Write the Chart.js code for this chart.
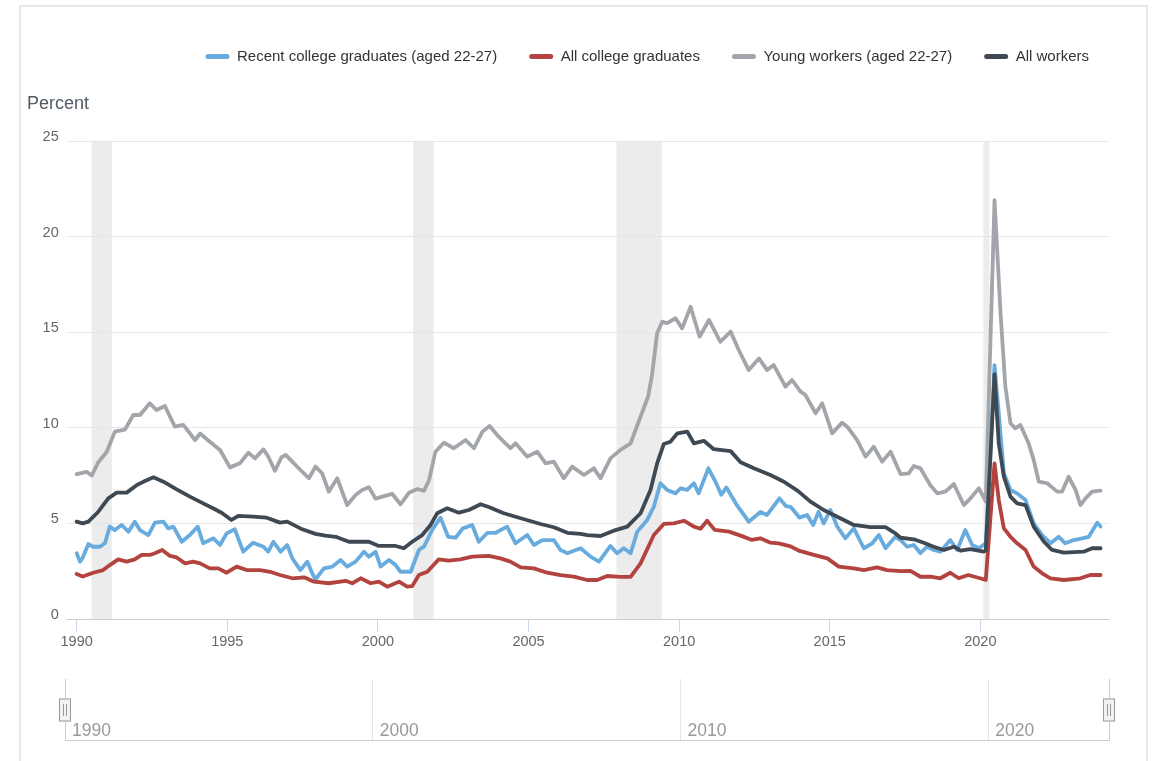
<!DOCTYPE html>
<html>
<head>
<meta charset="utf-8">
<script src="https://cdn.jsdelivr.net/npm/chart.js@4.4.1/dist/chart.umd.min.js"></script>
<style>
html, body { margin:0; padding:0; background:#fff; width:1161px; height:761px; overflow:hidden; }
#frame { position:absolute; left:19px; top:5px; width:1129px; height:800px; border:2px solid #e8e8e8; box-sizing:border-box; }
#main { position:absolute; left:0; top:0; }
#nav { position:absolute; left:0; top:660px; }
</style>
</head>
<body>
<div id="frame"></div>
<canvas id="main" width="1161" height="665"></canvas>
<canvas id="nav" width="1161" height="101"></canvas>
<script>
// ---------- DATA ----------
const seriesLabels = ['Recent college graduates (aged 22-27)', 'All college graduates', 'Young workers (aged 22-27)', 'All workers'];

const recentYears = [1990.0,1990.11,1990.2,1990.39,1990.55,1990.77,1990.94,1991.1,1991.27,1991.49,1991.72,1991.93,1992.1,1992.38,1992.6,1992.88,1993.04,1993.21,1993.49,1993.76,1994.02,1994.2,1994.54,1994.76,1994.98,1995.25,1995.53,1995.86,1996.2,1996.36,1996.53,1996.77,1996.99,1997.16,1997.43,1997.66,1997.82,1997.93,1998.21,1998.49,1998.76,1998.98,1999.26,1999.54,1999.7,1999.92,2000.09,2000.37,2000.59,2000.75,2001.09,2001.36,2001.53,2001.81,2002.08,2002.33,2002.58,2002.82,2003.13,2003.35,2003.63,2003.91,2004.07,2004.29,2004.57,2004.96,2005.18,2005.46,2005.84,2006.06,2006.29,2006.73,2007.06,2007.34,2007.72,2007.94,2008.16,2008.39,2008.61,2008.94,2009.16,2009.38,2009.6,2009.88,2010.05,2010.27,2010.49,2010.65,2010.97,2011.2,2011.4,2011.57,2011.9,2012.31,2012.7,2012.92,2013.33,2013.55,2013.7,2014.0,2014.25,2014.45,2014.63,2014.8,2015.02,2015.25,2015.52,2015.8,2016.13,2016.41,2016.63,2016.85,2017.18,2017.35,2017.57,2017.79,2018.01,2018.23,2018.45,2018.67,2019.0,2019.23,2019.5,2019.73,2019.95,2020.18,2020.47,2020.61,2020.78,2021.0,2021.22,2021.5,2021.77,2022.05,2022.33,2022.6,2022.82,2023.1,2023.38,2023.6,2023.88,2023.99];
const recentRates = [3.44,3.0,3.2,3.92,3.78,3.78,3.96,4.83,4.65,4.92,4.57,5.09,4.65,4.39,5.04,5.09,4.74,4.83,4.04,4.39,4.83,3.96,4.22,3.87,4.48,4.69,3.52,3.99,3.78,3.52,4.04,3.52,3.87,3.17,2.56,3.0,2.39,2.08,2.65,2.74,3.09,2.74,3.0,3.52,3.26,3.52,2.74,3.09,2.82,2.47,2.47,3.61,3.78,4.69,5.3,4.3,4.25,4.74,4.92,4.04,4.5,4.51,4.65,4.83,3.96,4.39,3.87,4.13,4.13,3.61,3.44,3.7,3.26,3.0,3.82,3.44,3.7,3.44,4.57,5.18,5.87,7.1,6.75,6.57,6.84,6.75,7.1,6.57,7.88,7.2,6.5,6.88,6.0,5.09,5.6,5.44,6.31,5.9,5.87,5.3,5.44,4.92,5.61,5.0,5.7,4.83,4.22,4.74,3.7,3.96,4.39,3.7,4.3,4.13,3.78,3.87,3.44,3.78,3.61,3.52,4.13,3.61,4.65,3.87,3.7,3.96,13.28,10.76,7.62,6.75,6.57,6.22,5.0,4.39,3.96,4.3,3.96,4.13,4.22,4.3,5.04,4.83];

const collegeYears = [1990.0,1990.2,1990.55,1990.88,1991.1,1991.38,1991.66,1991.93,1992.16,1992.43,1992.6,1992.84,1993.1,1993.32,1993.6,1993.87,1994.1,1994.42,1994.7,1994.98,1995.31,1995.64,1996.09,1996.42,1996.75,1997.16,1997.55,1997.88,1998.37,1998.93,1999.15,1999.43,1999.76,2000.03,2000.31,2000.7,2000.97,2001.14,2001.36,2001.64,2002.02,2002.35,2002.74,2003.13,2003.68,2004.07,2004.4,2004.74,2005.18,2005.62,2006.06,2006.5,2006.95,2007.28,2007.61,2008.05,2008.39,2008.72,2009.16,2009.49,2009.82,2010.16,2010.49,2010.71,2010.93,2011.18,2011.66,2012.04,2012.4,2012.7,2013.03,2013.3,2013.7,2014.0,2014.47,2014.92,2015.3,2015.8,2016.13,2016.57,2016.9,2017.35,2017.68,2018.01,2018.34,2018.67,2019.0,2019.28,2019.6,2019.99,2020.18,2020.47,2020.61,2020.78,2021.0,2021.22,2021.5,2021.77,2022.05,2022.33,2022.77,2023.32,2023.65,2023.99];
const collegeRates = [2.35,2.22,2.42,2.56,2.82,3.12,3.0,3.12,3.35,3.35,3.44,3.61,3.3,3.22,2.91,3.0,2.91,2.65,2.65,2.42,2.74,2.56,2.56,2.47,2.3,2.13,2.18,1.95,1.87,2.0,1.87,2.13,1.87,1.95,1.69,1.95,1.69,1.72,2.3,2.47,3.12,3.05,3.12,3.26,3.3,3.17,3.0,2.7,2.65,2.42,2.3,2.22,2.04,2.04,2.25,2.2,2.2,2.91,4.39,4.97,5.0,5.14,4.83,4.72,5.14,4.66,4.57,4.36,4.14,4.22,3.99,3.96,3.8,3.56,3.35,3.17,2.74,2.65,2.56,2.7,2.56,2.5,2.52,2.21,2.21,2.13,2.42,2.13,2.3,2.13,2.04,8.14,6.22,4.74,4.3,3.96,3.61,2.74,2.39,2.13,2.04,2.13,2.3,2.3];

const youngYears = [1990.0,1990.33,1990.5,1990.72,1991.0,1991.27,1991.6,1991.88,1992.1,1992.43,1992.65,1992.93,1993.26,1993.54,1993.93,1994.1,1994.42,1994.76,1995.09,1995.42,1995.7,1995.92,1996.2,1996.36,1996.58,1996.8,1996.94,1997.27,1997.71,1997.93,1998.15,1998.37,1998.65,1998.98,1999.26,1999.48,1999.7,1999.92,2000.15,2000.48,2000.75,2001.03,2001.31,2001.53,2001.7,2001.91,2002.19,2002.52,2002.91,2003.19,2003.47,2003.71,2003.96,2004.4,2004.57,2004.96,2005.29,2005.57,2005.84,2006.17,2006.45,2006.84,2007.17,2007.39,2007.72,2008.05,2008.39,2008.74,2008.97,2009.1,2009.27,2009.44,2009.6,2009.88,2010.1,2010.38,2010.68,2010.99,2011.37,2011.71,2011.98,2012.31,2012.65,2012.92,2013.14,2013.53,2013.75,2014.03,2014.19,2014.53,2014.75,2015.08,2015.41,2015.58,2015.91,2016.19,2016.46,2016.74,2017.02,2017.35,2017.62,2017.79,2018.01,2018.34,2018.57,2018.84,2019.12,2019.45,2019.67,2019.95,2020.18,2020.47,2020.67,2020.83,2021.0,2021.16,2021.33,2021.6,2021.77,2021.94,2022.22,2022.55,2022.71,2022.93,2023.16,2023.32,2023.49,2023.71,2023.99];
const youngRates = [7.58,7.7,7.5,8.2,8.75,9.8,9.9,10.67,10.67,11.28,10.93,11.14,10.06,10.15,9.36,9.7,9.27,8.84,7.93,8.14,8.7,8.4,8.87,8.5,7.75,8.46,8.58,8.05,7.36,7.97,7.62,6.66,7.36,5.96,6.49,6.75,6.89,6.3,6.4,6.54,6.0,6.6,6.8,6.7,7.27,8.75,9.22,8.93,9.36,8.93,9.8,10.1,9.62,8.93,9.19,8.49,8.75,8.14,8.23,7.36,7.97,7.53,7.88,7.36,8.4,8.84,9.19,10.67,11.63,12.75,14.94,15.55,15.47,15.73,15.2,16.33,14.76,15.64,14.5,15.03,14.07,13.02,13.63,13.02,13.28,12.15,12.5,11.89,11.72,10.76,11.28,9.71,10.27,10.06,9.36,8.49,9.01,8.23,8.75,7.58,7.62,8.0,7.88,7.0,6.57,6.66,7.06,5.96,6.31,6.84,6.14,21.9,16.0,12.15,10.24,9.97,10.15,9.19,8.32,7.18,7.1,6.66,6.66,7.44,6.75,5.96,6.31,6.66,6.71];

const allYears = [1990.0,1990.2,1990.39,1990.72,1991.05,1991.33,1991.66,1991.99,1992.27,1992.55,1992.88,1993.32,1993.76,1994.2,1994.59,1994.81,1995.14,1995.37,1995.86,1996.31,1996.75,1996.99,1997.49,1997.93,1998.26,1998.6,1999.04,1999.7,2000.03,2000.59,2000.86,2001.14,2001.47,2001.75,2001.97,2002.3,2002.69,2003.02,2003.41,2003.68,2004.18,2004.74,2005.4,2005.84,2006.29,2006.73,2006.95,2007.39,2007.83,2008.28,2008.72,2009.05,2009.27,2009.49,2009.71,2009.94,2010.27,2010.49,2010.82,2011.15,2011.71,2012.04,2012.48,2013.03,2013.48,2013.94,2014.36,2014.8,2015.25,2015.8,2016.35,2016.85,2017.18,2017.35,2017.79,2018.12,2018.45,2018.79,2019.12,2019.34,2019.67,2020.11,2020.18,2020.47,2020.61,2020.78,2021.0,2021.22,2021.5,2021.77,2022.11,2022.38,2022.77,2023.43,2023.71,2023.99];
const allRates = [5.09,5.0,5.09,5.61,6.31,6.61,6.61,7.0,7.22,7.41,7.18,6.78,6.4,6.05,5.74,5.56,5.18,5.39,5.35,5.3,5.04,5.09,4.69,4.45,4.36,4.3,4.04,4.04,3.82,3.82,3.7,4.04,4.39,4.92,5.53,5.79,5.56,5.7,6.0,5.86,5.53,5.27,4.97,4.8,4.51,4.45,4.39,4.34,4.62,4.83,5.53,6.75,8.14,9.15,9.27,9.71,9.8,9.19,9.32,8.88,8.78,8.2,7.88,7.53,7.18,6.7,6.14,5.7,5.35,4.92,4.8,4.8,4.48,4.25,4.17,3.99,3.78,3.61,3.78,3.57,3.65,3.52,3.6,12.8,9.19,7.44,6.4,6.05,5.96,4.83,4.04,3.61,3.47,3.52,3.7,3.7];

// recession shading (start / end, decimal years)
const recessionStarts = [1990.5, 2001.17, 2007.92, 2020.1];
const recessionEnds   = [1991.17, 2001.85, 2009.42, 2020.3];

// tick labels
const xTickValues   = [1990, 1995, 2000, 2005, 2010, 2015, 2020];
const yTickValues   = [0, 5, 10, 15, 20, 25];
const navTickValues = [1990, 2000, 2010, 2020];

// ---------- STYLE ----------
const colors = ['#68abdf', '#b3433e', '#a2a5aa', '#3e4953'];
Chart.defaults.font.family = "'Liberation Sans', Arial, Helvetica, sans-serif";
Chart.defaults.color = '#666';

function pts(xs, ys) { return xs.map((x, i) => ({ x: x, y: ys[i] })); }
const seriesData = [pts(recentYears, recentRates), pts(collegeYears, collegeRates), pts(youngYears, youngRates), pts(allYears, allRates)];

const datasets = seriesData.map((d, i) => ({
  label: seriesLabels[i],
  data: d,
  borderColor: colors[i],
  backgroundColor: colors[i],
  borderWidth: 3.8,
  pointRadius: 0,
  pointHoverRadius: 0,
  tension: 0,
  fill: false,
  borderJoinStyle: 'round',
  borderCapStyle: 'round',
  order: 4 - i
}));

const recessionPlugin = {
  id: 'recessions',
  beforeDraw(chart) {
    const { ctx, chartArea: a, scales: { x } } = chart;
    ctx.save();
    ctx.fillStyle = '#ececec';
    recessionStarts.forEach((s, i) => {
      const x0 = x.getPixelForValue(s);
      const x1 = x.getPixelForValue(recessionEnds[i]);
      ctx.fillRect(x0, a.top, x1 - x0, a.bottom - a.top);
    });
    ctx.restore();
  }
};

new Chart(document.getElementById('main'), {
  type: 'line',
  data: { datasets: datasets },
  options: {
    responsive: false,
    animation: false,
    events: [],
    layout: { padding: { left: 27, right: 40, top: 17, bottom: 6 } },
    plugins: {
      tooltip: { enabled: false },
      legend: {
        position: 'top',
        align: 'end',
        weight: 1000,
        labels: {
          boxWidth: 24,
          boxHeight: 5,
          padding: 32,
          color: '#333',
          font: { size: 15 },
          generateLabels: (chart) => chart.data.datasets.map((d, i) => ({
            text: d.label,
            fillStyle: d.borderColor,
            strokeStyle: d.borderColor,
            lineWidth: 0,
            hidden: false,
            datasetIndex: i,
            borderRadius: 2.5,
            fontColor: '#333'
          }))
        }
      },
      title: {
        display: true,
        text: 'Percent',
        position: 'top',
        align: 'start',
        weight: 500,
        color: '#505a64',
        font: { size: 18, weight: 'normal' },
        padding: { top: 19.2, bottom: 26.2 }
      }
    },
    scales: {
      x: {
        type: 'linear',
        min: 1989.67,
        max: 2024.27,
        afterBuildTicks: (s) => { s.ticks = xTickValues.map(v => ({ value: v })); },
        afterFit: (s) => { s.height = 40; },
        grid: { drawOnChartArea: false, drawTicks: true, tickLength: 13, color: '#ccd6eb', lineWidth: 1 },
        border: { color: '#cccccc', width: 1 },
        ticks: { padding: 1, color: '#666', font: { size: 14.5 }, maxRotation: 0, autoSkip: false, callback: (v) => String(v) }
      },
      y: {
        type: 'linear',
        min: 0,
        max: 25,
        afterBuildTicks: (s) => { s.ticks = yTickValues.map(v => ({ value: v })); },
        afterFit: (s) => { s.width = 39.7; },
        grid: { color: '#e6e6e6', drawTicks: false, lineWidth: 1 },
        border: { display: false },
        ticks: { padding: 8, color: '#666', font: { size: 14.5 }, labelOffset: -4, callback: (v) => String(v) }
      },
      y2: {
        type: 'linear',
        position: 'right',
        min: 0,
        max: 1,
        afterFit: (s) => { s.width = 12; },
        grid: { drawOnChartArea: false, drawTicks: false },
        border: { display: false },
        ticks: { display: false }
      }
    }
  },
  plugins: [recessionPlugin]
});

// ---------- NAVIGATOR ----------
const handlesPlugin = {
  id: 'handles',
  afterDraw(chart) {
    const { ctx, chartArea: a, scales: { x } } = chart;
    const cy = Math.round((a.top + a.bottom) / 2);
    ctx.save();
    ctx.lineWidth = 1;
    [x.min, x.max].forEach(v => {
      const px = Math.round(x.getPixelForValue(v));
      ctx.fillStyle = '#f2f2f2';
      ctx.strokeStyle = '#999';
      ctx.fillRect(px - 6, cy - 11.5, 12, 23);
      ctx.strokeRect(px - 5.5, cy - 11, 11, 22);
      ctx.beginPath();
      ctx.moveTo(px - 1.5, cy - 6); ctx.lineTo(px - 1.5, cy + 6);
      ctx.moveTo(px + 1.5, cy - 6); ctx.lineTo(px + 1.5, cy + 6);
      ctx.stroke();
    });
    ctx.restore();
  }
};

new Chart(document.getElementById('nav'), {
  type: 'line',
  data: { datasets: [] },
  options: {
    responsive: false,
    animation: false,
    events: [],
    layout: { padding: { left: 65, right: 52, top: 19, bottom: 21 } },
    plugins: { legend: { display: false }, title: { display: false }, tooltip: { enabled: false } },
    scales: {
      x: {
        type: 'linear',
        min: 1990,
        max: 2023.92,
        afterBuildTicks: (s) => { s.ticks = navTickValues.map(v => ({ value: v })); },
        afterFit: (s) => { s.height = 0; },
        grid: { color: '#e6e6e6', drawTicks: false, lineWidth: 1 },
        border: { color: '#cccccc', width: 1 },
        ticks: { mirror: true, align: 'start', padding: -1.5, labelOffset: 7, color: '#999', font: { size: 17.5 }, maxRotation: 0, autoSkip: false, callback: (v) => String(v) }
      },
      y: {
        type: 'linear', min: 0, max: 1,
        afterFit: (s) => { s.width = 0; },
        grid: { drawOnChartArea: false, drawTicks: false },
        border: { color: '#cccccc', width: 1 },
        ticks: { display: false }
      },
      y2: {
        type: 'linear', position: 'right', min: 0, max: 1,
        afterFit: (s) => { s.width = 0; },
        grid: { drawOnChartArea: false, drawTicks: false },
        border: { color: '#cccccc', width: 1 },
        ticks: { display: false }
      }
    }
  },
  plugins: [handlesPlugin]
});
</script>
</body>
</html>
